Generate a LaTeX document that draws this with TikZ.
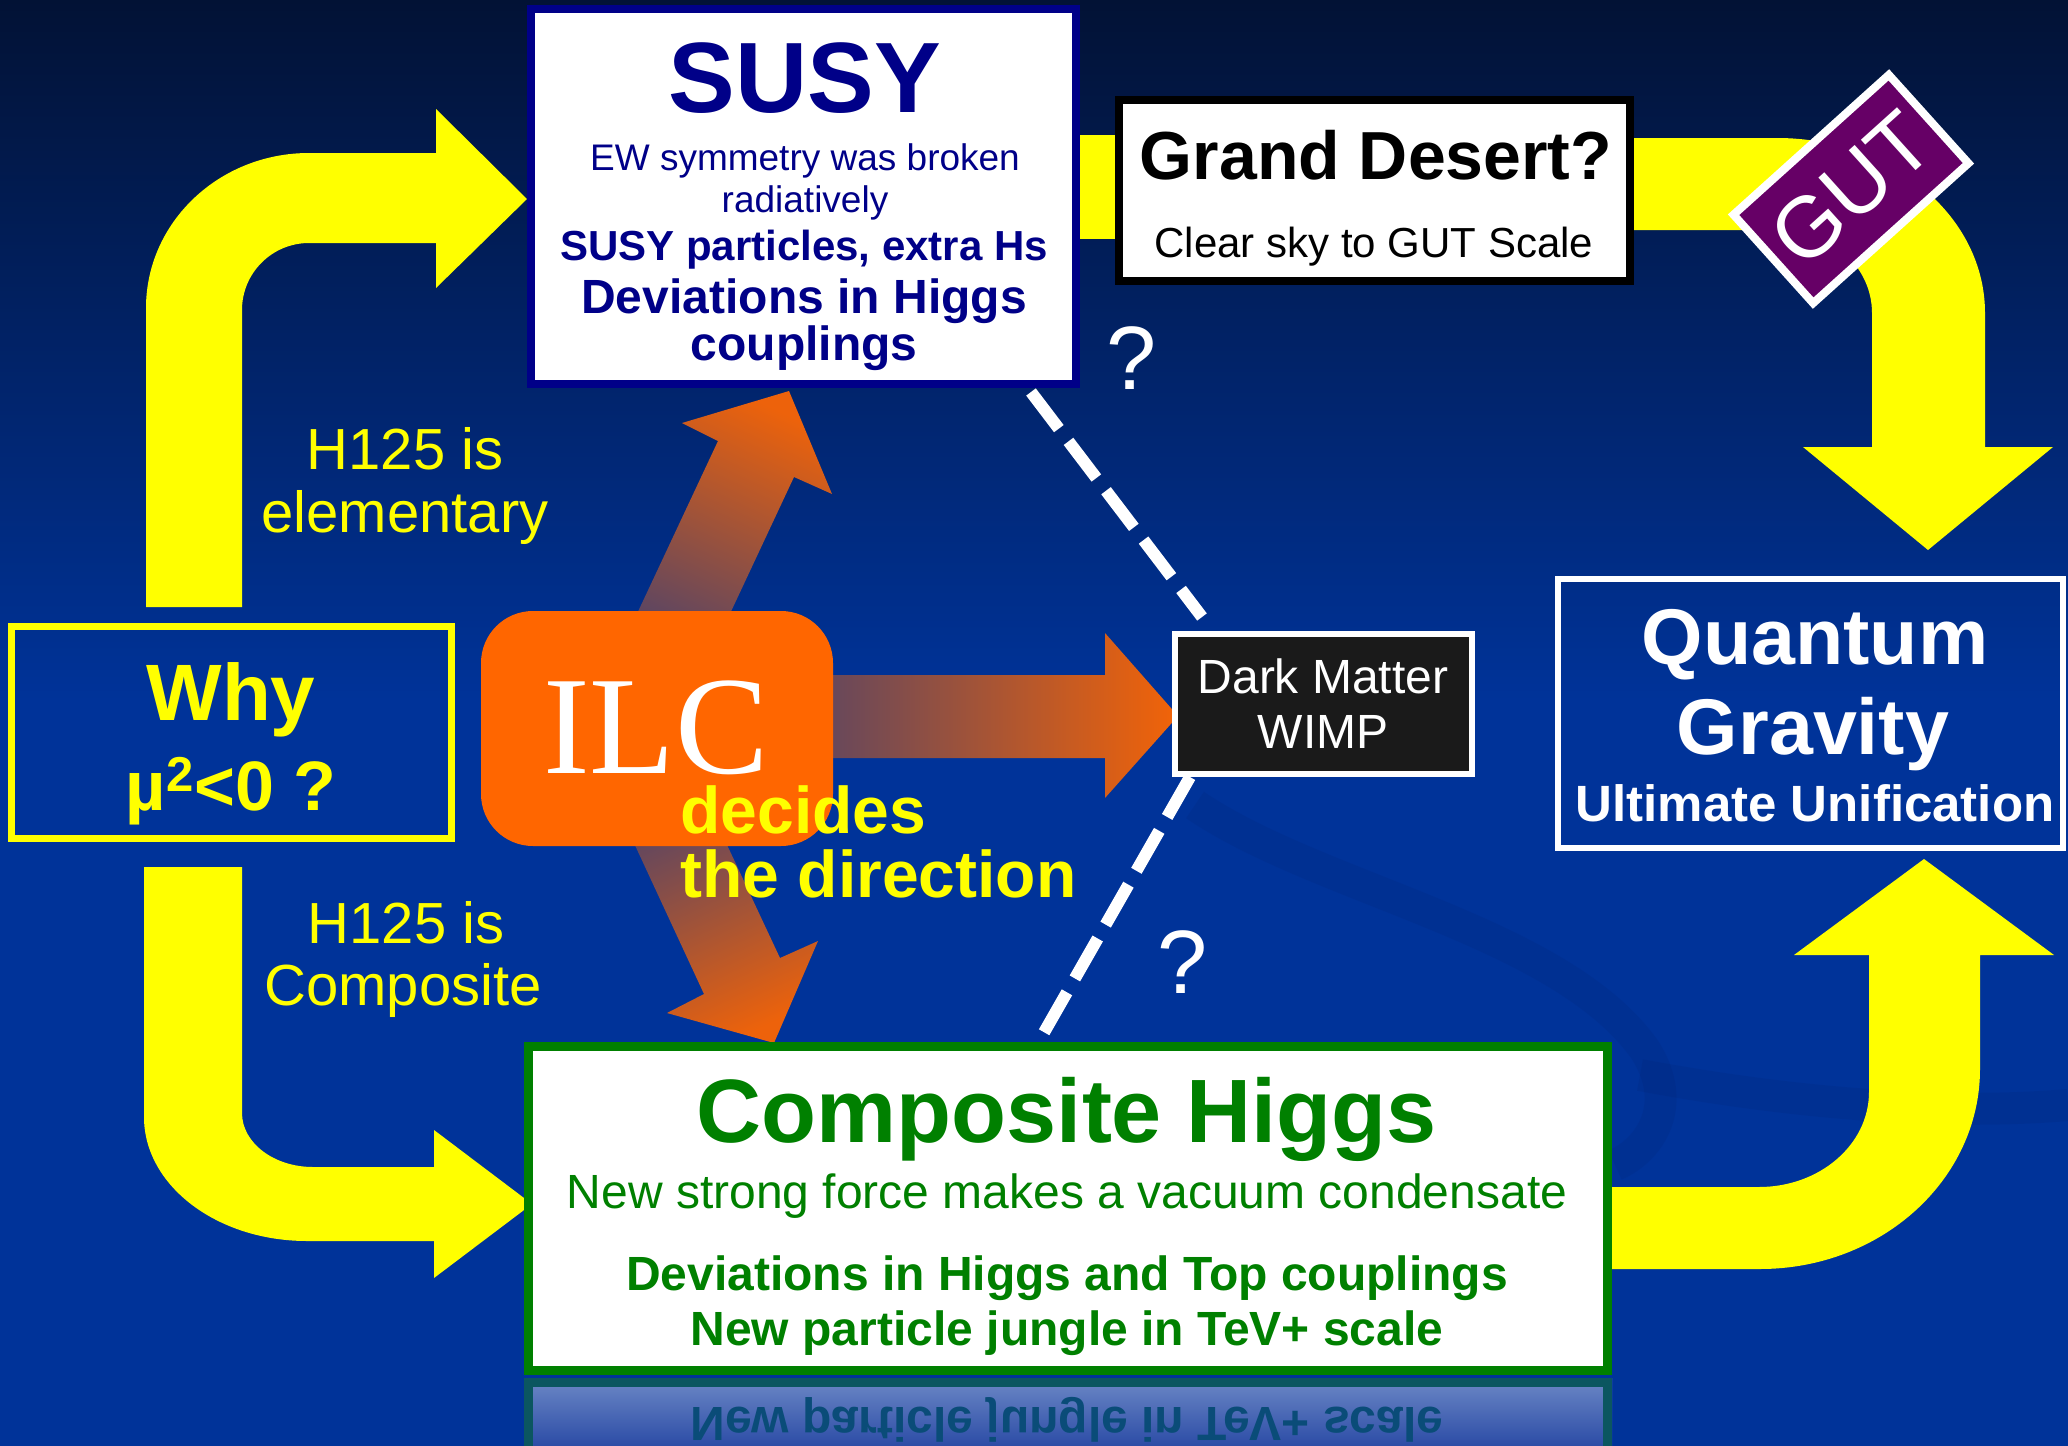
\documentclass[tikz,border=0pt]{standalone}
\usepackage{fontspec}
\setmainfont{Liberation Sans}
\newfontfamily\ilcfont{Liberation Serif}
\usetikzlibrary{calc}
\definecolor{bgblue}{HTML}{003399}
\definecolor{bgmid}{HTML}{01286E}
\definecolor{bgdark}{HTML}{021235}
\definecolor{navyT}{HTML}{000088}
\definecolor{ilcorange}{HTML}{FF6600}
\definecolor{gutpurple}{HTML}{660066}
\definecolor{dmfill}{HTML}{1A1A1A}
\definecolor{chgreen}{HTML}{008000}
\definecolor{yel}{HTML}{FFFF00}
\definecolor{reflTop}{HTML}{6C88C6}
\definecolor{reflBot}{HTML}{2C4CA6}
\definecolor{reflBorder}{HTML}{0B5660}
\definecolor{reflText}{HTML}{0A4C78}
\definecolor{swirlC}{HTML}{00206A}
\newcommand{\myfs}[1]{\fontsize{#1pt}{#1pt}\selectfont}
\tikzset{
  txt/.style={inner sep=0pt, anchor=base},
  yarrow/.style={fill=yel},
  swirl/.style={draw=swirlC, opacity=0.13, line width=16pt},
  boxbase/.style={inner sep=0pt},
  susybox/.style={boxbase, draw=navyT, line width=4pt, fill=white, minimum width=272.5pt, minimum height=187.5pt},
  gdbox/.style={boxbase, draw=black, line width=4pt, fill=white, minimum width=255.5pt, minimum height=90.5pt},
  whybox/.style={boxbase, draw=yel, line width=3.5pt, minimum width=220pt, minimum height=106pt},
  ilcbox/.style={boxbase, fill=ilcorange, rounded corners=26pt, minimum width=176pt, minimum height=117.5pt},
  dmbox/.style={boxbase, draw=white, line width=3pt, fill=dmfill, minimum width=148.5pt, minimum height=70pt},
  qgbox/.style={boxbase, draw=white, line width=3pt, minimum width=252.5pt, minimum height=134.5pt},
  chbox/.style={boxbase, draw=chgreen, line width=4.5pt, fill=white, minimum width=539.5pt, minimum height=162pt},
  gutbox/.style={boxbase, draw=white, line width=4pt, fill=gutpurple, minimum width=104.5pt, minimum height=59.5pt, text=white, font=\myfs{43}},
  dashline/.style={draw=white, line width=6pt, dash pattern=on 23pt off 8pt},
}
\begin{document}
\begin{tikzpicture}[x=0.5pt,y=-0.5pt]
\useasboundingbox (0,0) rectangle (2068,1446);
% background
\fill[bgblue] (0,690) rectangle (2068,1446);
\shade[top color=bgdark, middle color=bgmid, bottom color=bgblue] (0,0) rectangle (2068,701);
% faint background swirls
\draw[swirl] (1195,805) .. controls (1320,890) and (1560,930) .. (1645,1050) .. controls (1680,1105) and (1650,1150) .. (1615,1165);
\draw[swirl] (1640,1075) .. controls (1800,1105) and (1950,1115) .. (2068,1105);

% yellow arrows
\path[yarrow] (146,607) -- (146,308) .. controls (146,222.4) and (219,153) .. (309,153) -- (436,153) -- (436,109) -- (527,199) -- (436,288) -- (436,243) -- (309,243) .. controls (272,243) and (242,273) .. (242,310) -- (242,607) -- cycle;
\path[yarrow] (144,867) -- (144,1117) .. controls (144,1185.5) and (217,1241) .. (307,1241) -- (434,1241) -- (434,1278) -- (532,1204) -- (434,1130) -- (434,1167) -- (313,1167) .. controls (273.8,1167) and (242,1142.8) .. (242,1113) -- (242,867) -- cycle;
\path[yarrow] (1070,135) rectangle (1125,239);
\path[yarrow] (1600,138) -- (1777,138) .. controls (1891.9,138) and (1985,216.3) .. (1985,313) -- (1985,447) -- (2053,447) -- (1928,550) -- (1803,447) -- (1872,447) -- (1872,313) .. controls (1872,267.2) and (1831.7,230) .. (1782,230) -- (1600,230) -- cycle;
\path[yarrow] (1590,1269) -- (1760,1269) .. controls (1881.5,1269) and (1980,1179.5) .. (1980,1069) -- (1980,955) -- (2054,955) -- (1924,859) -- (1794,955) -- (1869,955) -- (1869,1092) .. controls (1869,1144.5) and (1819.8,1187) .. (1759,1187) -- (1590,1187) -- cycle;

% orange arrows
\shade[top color=ilcorange!93!bgblue, bottom color=ilcorange!36!bgblue, shading angle=-25]
  (620,650) -- (718,441) -- (682,423) -- (789,391) -- (832,494) -- (794,477) -- (713,650) -- cycle;
\shade[top color=ilcorange!36!bgblue, bottom color=ilcorange!93!bgblue, shading angle=25]
  (614,800) -- (704,994) -- (667,1013) -- (774,1043) -- (818,941) -- (780,958) -- (706,800) -- cycle;
\shade[left color=ilcorange!36!bgblue, right color=ilcorange!95!bgblue]
  (800,675) -- (1105,675) -- (1105,633) -- (1178,716) -- (1105,798) -- (1105,758) -- (800,758) -- cycle;

% boxes
\node[ilcbox] (ilc) at (657,728.5) {};
\node[susybox] (susy) at (803.5,196.5) {};
\node[gdbox] (gd) at (1374.5,190.5) {};
\node[whybox] (why) at (231.5,732.5) {};
\node[dmbox] (dm) at (1323.5,704) {};
\node[qgbox] (qg) at (1810.5,713.5) {};
\node[chbox] (ch) at (1068,1208.5) {};
\node[gutbox, rotate=42] (gut) at (1851,189) {GUT};

% reflection
\shade[top color=reflTop, bottom color=reflBot] (524,1378) rectangle (1612,1446);
\draw[reflBorder, line width=4.5pt] (528.5,1450) -- (528.5,1382.5) -- (1607.5,1382.5) -- (1607.5,1450);
\node[txt, yscale=-1, text=reflText, font=\bfseries\myfs{24}] (refl) at (1067,1407) {New particle jungle in TeV+ scale};

% dashed connectors
\draw[dashline] ($(susy.south east)+(-49,4)$) -- ($(dm.north west)+(30,-14)$);
\draw[dashline] ($(dm.south west)+(18,0)$) -- ($(ch.north)+(-26,-6)$);

% texts
\node[txt, text=navyT, font=\bfseries\myfs{50}] (t1) at (805,112) {SUSY};
\node[txt, text=navyT, font=\myfs{18.5}] (t2) at (805,170) {EW symmetry was broken};
\node[txt, text=navyT, font=\myfs{18.5}] (t3) at (805,212) {radiatively};
\node[txt, text=navyT, font=\bfseries\myfs{21}] (t4) at (804,260) {SUSY particles, extra Hs};
\node[txt, text=navyT, font=\bfseries\myfs{24}] (t5) at (804,313) {Deviations in Higgs};
\node[txt, text=navyT, font=\bfseries\myfs{24}] (t6) at (804,360) {couplings};

\node[txt, text=black, font=\bfseries\myfs{34}] (g1) at (1376,179) {Grand Desert?};
\node[txt, text=black, font=\myfs{21}] (g2) at (1374,257) {Clear sky to GUT Scale};

\node[txt, text=white, font=\myfs{45}] (q1) at (1132,389) {?};
\node[txt, text=white, font=\myfs{45}] (q2) at (1183,993) {?};

\node[txt, text=yel, font=\bfseries\myfs{40}] (w1) at (231,720) {Why};
\node[txt, text=yel, font=\bfseries\myfs{35}] (w2) at (231,810) {µ\textsuperscript{2}<0 ?};

\node[txt, text=yel, font=\myfs{29}] (h1) at (405,469) {H125 is};
\node[txt, text=yel, font=\myfs{29}] (h2) at (405,532) {elementary};
\node[txt, text=yel, font=\myfs{29}] (h3) at (406,943) {H125 is};
\node[txt, text=yel, font=\myfs{29}] (h4) at (403,1005) {Composite};

\node[txt, text=white, font=\ilcfont\myfs{70}] (i1) at (656,773) {ILC};
\node[txt, anchor=base west, text=yel, font=\bfseries\myfs{33}] (d1) at (680,833) {decides};
\node[txt, anchor=base west, text=yel, font=\bfseries\myfs{33}] (d2) at (680,897) {the direction};

\node[txt, text=white, font=\myfs{24}] (m1) at (1323,693) {Dark Matter};
\node[txt, text=white, font=\myfs{24}] (m2) at (1323,748) {WIMP};

\node[txt, text=white, font=\bfseries\myfs{39.5}] (u1) at (1815,664) {Quantum};
\node[txt, text=white, font=\bfseries\myfs{39.5}] (u2) at (1813,754) {Gravity};
\node[txt, text=white, font=\bfseries\myfs{25.5}] (u3) at (1815,821) {Ultimate Unification};

\node[txt, text=chgreen, font=\bfseries\myfs{45}] (c1) at (1067,1142) {Composite Higgs};
\node[txt, text=chgreen, font=\myfs{24}] (c2) at (1067,1208) {New strong force makes a vacuum condensate};
\node[txt, text=chgreen, font=\bfseries\myfs{24}] (c3) at (1067,1290) {Deviations in Higgs and Top couplings};
\node[txt, text=chgreen, font=\bfseries\myfs{24}] (c4) at (1067,1345) {New particle jungle in TeV+ scale};
\end{tikzpicture}
\end{document}
